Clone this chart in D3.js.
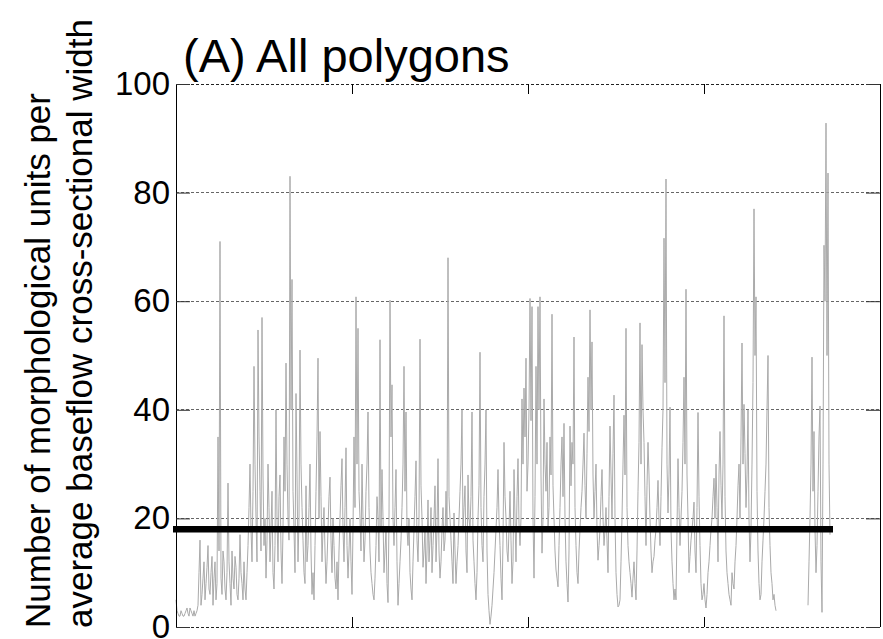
<!DOCTYPE html>
<html><head><meta charset="utf-8">
<script src="https://cdn.jsdelivr.net/npm/d3@7"></script>
<style>body{margin:0;background:#fff}</style>
</head><body><svg id="c" width="883" height="639"></svg>
<script>
const title = "(A) All polygons";
const yLabelLines = ["Number of morphological units per", "average baseflow cross-sectional width"];
const yTicks = [0, 20, 40, 60, 80, 100];
const xTicks = [176, 352, 528];
const xDomain = [0, 704];
const threshold = 18;
const thresholdExtent = [-3, 657];

const seg1 = [5,3,2.5,2,2,3,2.5,2,2,2.5,3,3.5,2.5,2,3.5,3,2.5,2,3,2,2.5,3,4,10,16,4,6,9,12,5,8,11,15,7,6,10,13,4,9,12,5,8,35,14,71,9,6,14,12,7,5,10,26.5,12,8,4,14,9,7,13,11,6,5,9,17,10,8,5,12,7,5,10,15,22,30,18,12,25,48,30,20,12,54.7,35,25,14,57,28,15,20,9,16,30,22,12,18,25,10,7,15,40,20,12,24,28,14,8,18,35,25,48.6,30,20,16,83,40,64,25,18,10,43,28,12,20,51,30,22,16,10,8,26,12,15,22,30,14,6,10,5,15,25,35,49.5,20,36,24,12,18,22,14,8,12,18,24,27.6,16,10,20,15,9,7,12,5,14,20,26,31,18,12,22,33,15,9,14,20];
const seg2 = [12,6,18,35,22,60.8,30,55,25,20,14,30,20,12,16,25,30,39.6,22,14,10,8,6,5,9,15,24,20,12,52.9,18,29,20,10,14,18,8,4.5,20,60.2,35,44.6,20,15,22,29,12,4,8,12,16,22,30,48,25,39.6,18,15,20,10,7,5,12,18,24,30.6,16,12,20,53,26,20,11,14,18,8,14,23.4,12,16,22,10,15,20,26,12,18,31,14,9,12,18,22,14,16,25,18,68,24,20,16,12,8,21,14,8,12,15,20,25,30,40,18,22,26,14,10,28,20,18,24,39.6,16,12,8,5,10,20,26,50.6,22,15,12,24,30,40,14,6,3,0.5,2,4,7,10,14,18,22,29,20,15,9,5,16,34,24,20,14,12,18,25,16,8,12,29,20,12,24,31,19,15];
const seg3 = [20,42,30,44,35,49.5,25,30,40,60.5,38,59,20,9,24,48,30,59,40,60.8,28,13.6,20,42,30,25,34,18,22,35,28,57.6,26,20,14,10.5,9,7.4,15,22,30,35,24,37.5,20,12,8,4.6,14,37,26,34,30,53.4,22,15,10,8,14,18,22,25,30,35.7,26,20,32,46,36,58.4,40,52.5,28,20,25,30,18,12.3,15,18,24,29,20,15,18,22,16,10,24,37,28,20,32,42.7,20,10,6,3.7,4,5,12,20,30,39,28,55,22,15,12,10,8,5.5,9,12,8,5,14,25,34,56,30,52,40,34,24,15,26,34,28,20,14,10,12,13,16,18,22,27,20,15,24,33,40,71.6,45,82.5,30,21,28,40.5,18,12,8,5,7,5,18,31,22,15];
const seg4 = [20,25,34,46,30,62.2,28,20,10,13,16,18,20,23,14,10,22,39.5,24,15,8,5,6,8,5,3.5,6,10,12,15,18,20,24,27.4,20,30,22,12,28,36,26,20,30,57.3,24,14,10,8,6,5,4,10,8,7,12,15,20,26,30,20,35,52.3,30,41,32,22,28,40,20,12,18,30,45,77,50,60.8,25,14,8,5,6,12,16,20,25,30,40,50,22,15,10,8,5,6,4,3];
const gap = Array.from({length: 31}, () => null);
const seg5 = [4,12,20,30,49.7,25,36,18,10,15,25,35,40.7,12,2.7,30,70.3,60,92.8,50,83.6,30,17];
const values = [].concat(seg1, seg2, seg3, seg4, gap, seg5);

const W = 883, H = 639;
const m = {left: 176, right: 3, top: 84, bottom: 12};
const svg = d3.select("#c");
const x = d3.scaleLinear().domain(xDomain).range([m.left, W - m.right]);
const y = d3.scaleLinear().domain([0, 100]).range([H - m.bottom, m.top]);
const font = "'Liberation Sans', Arial, Helvetica, sans-serif";

// gridlines
svg.append("g").selectAll("line").data(yTicks).join("line")
  .attr("x1", x(xDomain[0])).attr("x2", x(xDomain[1]))
  .attr("y1", d => y(d)).attr("y2", d => y(d))
  .attr("stroke", d => (d === 0 || d === 100) ? "#222" : "#666")
  .attr("stroke-width", 1)
  .attr("stroke-dasharray", "3,2")
  .attr("shape-rendering", "crispEdges");

// data line
const line = d3.line().defined(d => d != null).x((d, i) => x(i)).y(d => y(d));
svg.append("path").datum(values)
  .attr("d", line).attr("fill", "none")
  .attr("stroke", "#aaaaaa").attr("stroke-width", 1);

// threshold
svg.append("line")
  .attr("x1", x(thresholdExtent[0])).attr("x2", x(thresholdExtent[1]))
  .attr("y1", y(threshold)).attr("y2", y(threshold))
  .attr("stroke", "#000").attr("stroke-width", 6.5);

// left/right borders
svg.append("line").attr("x1", x(xDomain[0])).attr("x2", x(xDomain[0]))
  .attr("y1", y(0)).attr("y2", y(100)).attr("stroke", "#000").attr("shape-rendering", "crispEdges");
svg.append("line").attr("x1", x(xDomain[1])).attr("x2", x(xDomain[1]))
  .attr("y1", y(0)).attr("y2", y(100)).attr("stroke", "#000").attr("shape-rendering", "crispEdges");

// y axis left (labels + inward ticks)
const yAxisL = svg.append("g").attr("transform", `translate(${x(xDomain[0])},0)`)
  .call(d3.axisLeft(y).tickValues(yTicks).tickSize(-14).tickPadding(6));
yAxisL.select(".domain").remove();
yAxisL.selectAll("text").attr("font-family", font).attr("font-size", 33).attr("fill", "#000").attr("x", -6);
yAxisL.selectAll("line").attr("stroke", "#333");

const yAxisR = svg.append("g").attr("transform", `translate(${x(xDomain[1])},0)`)
  .call(d3.axisRight(y).tickValues(yTicks).tickSize(-14).tickFormat(""));
yAxisR.select(".domain").remove();
yAxisR.selectAll("line").attr("stroke", "#333");

// x axis ticks (inward, top and bottom)
const xAxisB = svg.append("g").attr("transform", `translate(0,${y(0)})`)
  .call(d3.axisBottom(x).tickValues(xTicks).tickSize(-10).tickFormat(""));
xAxisB.select(".domain").remove();
xAxisB.selectAll("line").attr("stroke", "#000");
const xAxisT = svg.append("g").attr("transform", `translate(0,${y(100)})`)
  .call(d3.axisTop(x).tickValues(xTicks).tickSize(-10).tickFormat(""));
xAxisT.select(".domain").remove();
xAxisT.selectAll("line").attr("stroke", "#000");

// title
svg.append("text").attr("x", 183).attr("y", 72)
  .attr("font-family", font).attr("font-size", 47).attr("fill", "#000")
  .text(title);

// y label
const yl = svg.append("g");
yLabelLines.forEach((t, k) => {
  yl.append("text")
    .attr("transform", `translate(${[50, 92][k]},${y(0) + 1}) rotate(-90)`)
    .attr("font-family", font).attr("font-size", 35).attr("fill", "#000")
    .attr("text-anchor", "start")
    .text(t);
});
</script>
</body></html>
